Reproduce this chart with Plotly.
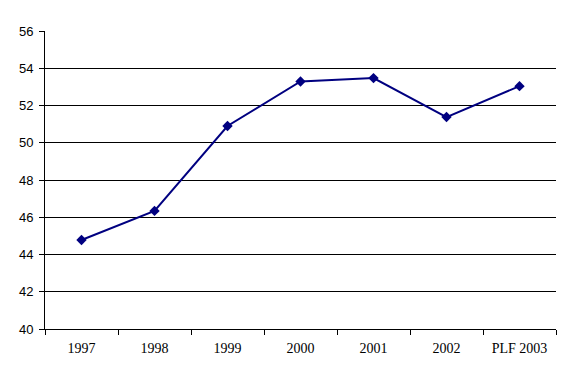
import plotly.graph_objects as go

categories = ["1997", "1998", "1999", "2000", "2001", "2002", "PLF 2003"]
values = [44.78, 46.34, 50.9, 53.29, 53.47, 51.38, 53.04]
y_ticks = [40, 42, 44, 46, 48, 50, 52, 54, 56]

fig = go.Figure()
fig.add_trace(go.Scatter(
    x=categories, y=values, mode="lines+markers",
    line=dict(color="#000080", width=2),
    marker=dict(symbol="diamond", size=8, color="#000080"),
    showlegend=False,
))

xfont = dict(family="Liberation Serif, Times New Roman, serif", size=14, color="black")
yfont = dict(family="Liberation Sans, Arial, sans-serif", size=13, color="black")
fig.update_layout(
    width=574, height=383,
    margin=dict(l=37, r=26, t=23, b=62, autoexpand=False),
    paper_bgcolor="white", plot_bgcolor="white",
    font=xfont,
    xaxis=dict(
        type="category", range=[-0.5, 6.5], automargin=False,
        showline=True, linecolor="black", linewidth=1,
        ticks="outside", tickson="boundaries", ticklen=5, tickcolor="black",
        showgrid=False, tickfont=xfont, ticklabelstandoff=6,
    ),
    yaxis=dict(
        range=[40, 56], tickvals=y_ticks, automargin=False,
        showline=True, linecolor="black", linewidth=1,
        ticks="outside", ticklen=5, tickcolor="black",
        showgrid=True, gridcolor="black", gridwidth=1,
        zeroline=False, tickfont=yfont, ticklabelstandoff=3,
    ),
)
fig.write_html("out.html")
